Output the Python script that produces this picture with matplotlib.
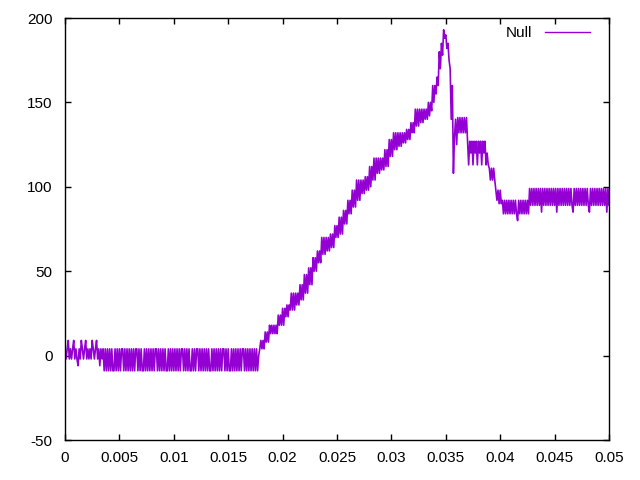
import numpy as np
import matplotlib
matplotlib.use("Agg")
import matplotlib.pyplot as plt

plt.rcParams['font.family'] = ['Liberation Sans', 'DejaVu Sans']
plt.rcParams['axes.unicode_minus'] = False

# muestreo: 0 .. 0.05 s cada 0.0001 s
dt = 0.0001
# valores (senal cuantizada y ruidosa)
signal = [
    4, -2, 4, 9, -2, 4, -2, 4, 9, -2,
    4, -2, -6, 4, -2, 9, 4, -2, 4, 9,
    -2, 4, -2, 4, -2, 9, 4, -2, 4, 9,
    -2, 4, -6, 4, -2, 4, -9, 4, -9, 4,
    -9, 4, -9, 4, -9, -9, 4, -9, 4, -9,
    4, -9, 4, 4, -9, 4, -9, 4, -9, 4,
    -9, 4, -9, 4, -9, 4, 4, -9, 4, -9,
    4, -9, -9, 4, -9, 4, -9, 4, -9, 4,
    -9, 4, -9, 4, 4, -9, 4, -9, 4, -9,
    4, -9, 4, -9, -9, 4, -9, 4, -9, 4,
    -9, 4, -9, 4, -9, 4, -9, 4, 4, -9,
    4, -9, 4, -9, 4, -9, -9, 4, -9, 4,
    -9, 4, 4, -9, 4, -9, 4, -9, 4, -9,
    4, -9, 4, -9, -9, 4, -9, 4, -9, 4,
    -9, 4, -9, 4, -9, 4, 4, -9, 4, -9,
    4, -9, -9, 4, -9, 4, -9, 4, -9, 4,
    -9, 4, -9, 4, 4, -9, 4, -9, 4, -9,
    4, -9, 4, -9, 4, -9, 4, -9, 0, 4,
    9, 4, 9, 4, 14, 8, 14, 8, 18, 13,
    18, 13, 18, 13, 18, 13, 24, 18, 24, 18,
    28, 18, 28, 23, 30, 23, 30, 27, 37, 27,
    37, 27, 37, 30, 37, 30, 42, 33, 42, 33,
    48, 37, 48, 37, 52, 42, 52, 42, 58, 50,
    58, 50, 62, 55, 62, 55, 70, 60, 70, 60,
    70, 62, 70, 62, 72, 64, 72, 64, 77, 70,
    77, 70, 82, 72, 82, 72, 86, 78, 86, 78,
    92, 84, 92, 84, 98, 88, 98, 88, 104, 92,
    104, 92, 104, 96, 104, 96, 106, 98, 106, 98,
    112, 100, 112, 104, 117, 104, 117, 108, 117, 108,
    117, 110, 117, 110, 122, 112, 122, 112, 128, 118,
    128, 118, 132, 122, 132, 122, 132, 124, 132, 124,
    132, 126, 132, 126, 134, 128, 134, 128, 138, 132,
    138, 132, 146, 136, 146, 136, 146, 138, 146, 138,
    146, 140, 146, 140, 150, 142, 150, 145, 160, 150,
    160, 155, 165, 160, 180, 170, 185, 178, 193, 188,
    190, 182, 185, 175, 170, 140, 160, 108, 130, 140,
    125, 141, 132, 141, 132, 141, 132, 141, 132, 141,
    127, 113, 127, 120, 127, 113, 127, 120, 127, 113,
    127, 120, 127, 113, 127, 120, 127, 113, 120, 113,
    111, 104, 111, 104, 111, 104, 98, 92, 98, 90,
    98, 90, 92, 84, 92, 84, 92, 84, 92, 84,
    92, 84, 92, 84, 92, 84, 80, 92, 84, 92,
    84, 92, 84, 92, 84, 92, 84, 99, 89, 99,
    89, 99, 89, 99, 89, 99, 89, 99, 85, 99,
    89, 99, 89, 99, 89, 99, 89, 99, 89, 99,
    89, 99, 85, 99, 89, 99, 89, 99, 89, 99,
    89, 99, 89, 99, 89, 99, 89, 85, 99, 89,
    99, 89, 99, 89, 99, 89, 99, 89, 99, 89,
    99, 89, 85, 99, 89, 99, 89, 99, 89, 99,
    89, 99, 89, 99, 89, 99, 89, 99, 85, 99,
    89,
]
t = np.arange(len(signal)) * dt

xticks = [0, 0.005, 0.01, 0.015, 0.02, 0.025, 0.03, 0.035, 0.04, 0.045, 0.05]
xlabels = ["0", "0.005", "0.01", "0.015", "0.02", "0.025", "0.03", "0.035", "0.04", "0.045", "0.05"]
yticks = [-50, 0, 50, 100, 150, 200]

fig = plt.figure(figsize=(6.4, 4.8), dpi=100)
ax = fig.add_axes([65 / 640, 1 - 440 / 480, 544 / 640, 422 / 480])
ax.plot(t, signal, color="#9400d3", linewidth=1.2, label="Null")

ax.set_xlim(0, 0.05)
ax.set_ylim(-50, 200)
ax.set_xticks(xticks)
ax.set_xticklabels(xlabels)
ax.set_yticks(yticks)
ax.tick_params(direction="in", length=4.5, width=1, top=True, right=True,
               labelsize=11, colors="black")
ax.tick_params(axis="x", pad=8)
ax.tick_params(axis="y", pad=9)
for s in ax.spines.values():
    s.set_linewidth(1)

leg = ax.legend(loc="upper right", bbox_to_anchor=(0.965, 0.981), frameon=False,
                markerfirst=False, fontsize=11, handlelength=2.95, borderpad=0,
                borderaxespad=0, handletextpad=0.85)
leg.get_lines()[0].set_linewidth(1)

fig.savefig("out.png", dpi=100)
